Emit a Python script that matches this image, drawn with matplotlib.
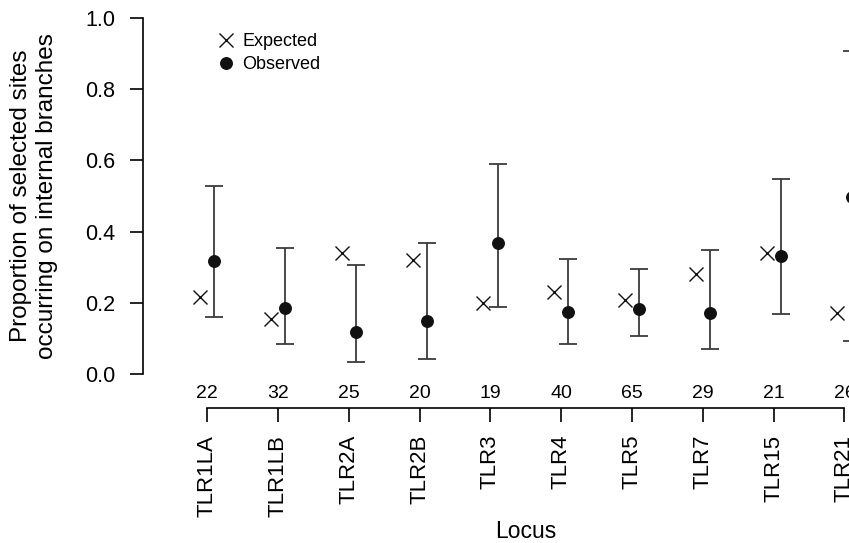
import numpy as np
import matplotlib
matplotlib.use("Agg")
import matplotlib.pyplot as plt

plt.rcParams['font.family'] = ['Liberation Sans', 'DejaVu Sans']

# Data
loci = ['TLR1LA', 'TLR1LB', 'TLR2A', 'TLR2B', 'TLR3', 'TLR4', 'TLR5', 'TLR7', 'TLR15', 'TLR21']
counts = [22, 32, 25, 20, 19, 40, 65, 29, 21, 26]
expected = [0.218, 0.154, 0.339, 0.320, 0.200, 0.232, 0.208, 0.280, 0.339, 0.173]
observed = [0.318, 0.187, 0.120, 0.149, 0.368, 0.174, 0.184, 0.171, 0.333, 0.498]
ci_low = [0.162, 0.085, 0.034, 0.043, 0.190, 0.084, 0.107, 0.070, 0.170, 0.094]
ci_high = [0.528, 0.355, 0.306, 0.368, 0.590, 0.322, 0.296, 0.349, 0.547, 0.907]

W, H = 849, 543
fig = plt.figure(figsize=(W / 100, H / 100), dpi=100)

# pixel layout
x0_px, dx_px = 207.3, 70.8      # first locus, spacing
y1_px, y0_px = 17.7, 374.3      # y=1 and y=0
left_px = 143
ymin = -0.12
bottom_px = y0_px - ymin * (y0_px - y1_px)

ax = fig.add_axes([left_px / W, (H - bottom_px) / H,
                   (W - left_px) / W, (bottom_px - y1_px) / H])
xmin = (left_px - x0_px) / dx_px
xmax = (W - x0_px) / dx_px
ax.set_xlim(xmin, xmax)
ax.set_ylim(ymin, 1.0)

x = np.arange(len(loci))
off = 0.1
obs_x = x + off
exp_x = x - off

yerr = [np.array(observed) - np.array(ci_low), np.array(ci_high) - np.array(observed)]
eb = ax.errorbar(obs_x, observed, yerr=yerr, fmt='none', ecolor='#3c3c3c',
                 elinewidth=1.3, capsize=6.5, capthick=1.3, clip_on=False)
for part in eb.lines[1] + eb.lines[2]:
    part.set_clip_on(False)
h_obs, = ax.plot(obs_x, observed, 'o', color='#111111', markersize=8.3,
                 linestyle='none', clip_on=False, zorder=3)
h_exp, = ax.plot(exp_x, expected, 'x', color='#111111', markersize=9.5,
                 markeredgewidth=1.0, linestyle='none', clip_on=False, zorder=3)

# y axis R style
ax.spines['top'].set_visible(False)
ax.spines['right'].set_visible(False)
ax.spines['left'].set_bounds(0, 1)
ax.spines['left'].set_linewidth(1.2)
ax.set_yticks([0, 0.2, 0.4, 0.6, 0.8, 1.0])
ax.set_yticklabels(['0.0', '0.2', '0.4', '0.6', '0.8', '1.0'])
ax.tick_params(axis='y', length=9.4, width=1.2, pad=10.5, labelsize=15.5)

# x axis below the plot
axis_y = -(407.7 - y0_px) / (y0_px - y1_px)
ax.spines['bottom'].set_position(('data', axis_y))
ax.spines['bottom'].set_bounds(0, len(loci) - 1)
ax.spines['bottom'].set_linewidth(1.2)
ax.set_xticks(x)
ax.set_xticklabels(loci, rotation=90)
ax.tick_params(axis='x', length=10, width=1.2, pad=9.5, labelsize=16)

count_y = -(394 - y0_px) / (y0_px - y1_px)
for xi, c in zip(x, counts):
    ax.text(xi, count_y, str(c), ha='center', va='center', fontsize=14,
            clip_on=False)

fig.text(34 / W, (H - 196) / H, 'Proportion of selected sites\noccurring on internal branches',
         rotation=90, ha='center', va='center', fontsize=17.5, linespacing=1.25)
fig.text(525.5 / W, (H - 538) / H, 'Locus', ha='center', va='baseline', fontsize=16.5)

ax.legend([h_exp, h_obs], ['Expected', 'Observed'], loc='upper left',
          bbox_to_anchor=(219 / W, (H - 33) / H), bbox_transform=fig.transFigure,
          frameon=False, fontsize=13, handlelength=0.8, handletextpad=0.5,
          labelspacing=0.35, borderpad=0, borderaxespad=0)

fig.savefig('out.png', dpi=100)
